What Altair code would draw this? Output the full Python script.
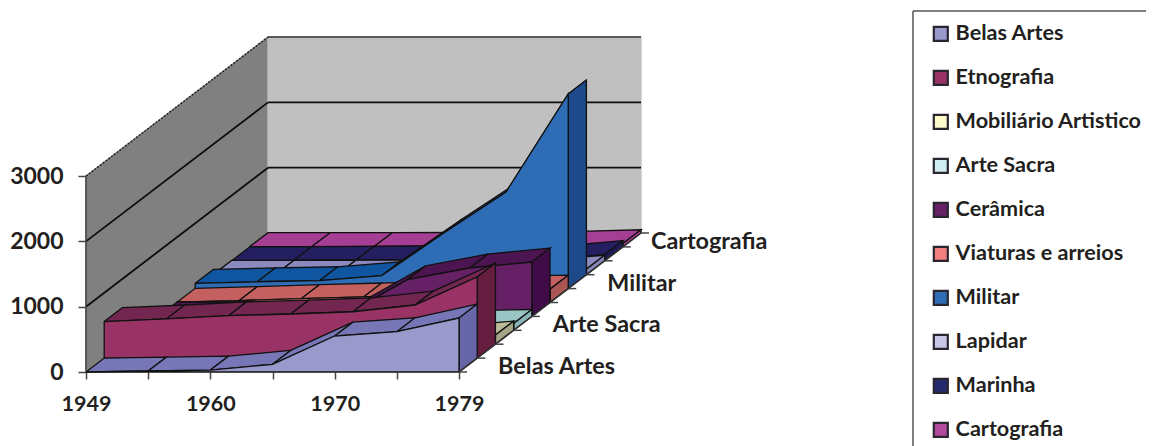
import altair as alt
import pandas as pd

# ---- data ----
SERIES = ["Belas Artes", "Etnografia", "Mobiliário Artistico", "Arte Sacra", "Cerâmica",
          "Viaturas e arreios", "Militar", "Lapidar", "Marinha", "Cartografia"]
CATEGORY_LABELS = ["1949", "", "1960", "", "1970", "", "1979"]
belas_artes = [0, 15, 30, 118, 551, 617, 827]
etnografia = [560, 600, 650, 675, 710, 813, 1242]
mobiliario = [0, 0, 0, 10, 30, 60, 140]
arte_sacra = [0, 0, 0, 10, 40, 90, 105]
ceramica = [5, 10, 15, 25, 563, 741, 833]
viaturas = [5, 30, 60, 85, 120, 190, 205]
militar = [81, 105, 121, 198, 851, 1480, 2980]
lapidar = [5, 5, 10, 10, 10, 15, 85]
marinha = [0, 5, 10, 15, 20, 10, 95]
cartografia = [5, 5, 5, 10, 15, 25, 50]
VALUES = [belas_artes, etnografia, mobiliario, arte_sacra, ceramica,
          viaturas, militar, lapidar, marinha, cartografia]
FRONT = ["#9999cc", "#993366", "#fffccc", "#cfeef2", "#662066",
         "#f28080", "#2e6db5", "#c8c8e6", "#25296e", "#b44a9c"]
TOP = ["#7777b8", "#732650", "#bbbb99", "#99c5c5", "#4c1450",
       "#c46060", "#0f55a0", "#8a8abf", "#231f60", "#a53f94"]
SIDE = ["#6666a8", "#661e40", "#a5a585", "#88b5b5", "#3f0c48",
        "#ac5555", "#1e4a8c", "#8888bb", "#1f1c55", "#c0409a"]
DEPTH_LABELS = {"Belas Artes": 0, "Arte Sacra": 3, "Militar": 6, "Cartografia": 9}
Y_TICKS = [0, 1000, 2000, 3000]

# ---- oblique projection (one depth slot, in category / value units) ----
CAT_PX, UNIT_PX = 62.17, 65.3 / 1000
DX, DY = 18.2 / CAT_PX, 13.9 / UNIT_PX
LAST = len(CATEGORY_LABELS) - 1
NDEPTH = len(SERIES)


def proj(i, d, v):
    return i + d * DX, v + d * DY


rows = []
def poly(points, fill, stroke):
    pid = poly.n = getattr(poly, "n", 0) + 1
    for k, p in enumerate(list(points) + [points[0]]):
        x, y = proj(*p)
        rows.append(dict(pid=pid, k=k, x=x, y=y, fill=fill, stroke=stroke))


# walls
poly([(0, 0, 0), (0, NDEPTH, 0), (0, NDEPTH, 3000), (0, 0, 3000)], "#808080", "#808080")
poly([(0, NDEPTH, 0), (LAST, NDEPTH, 0), (LAST, NDEPTH, 3000), (0, NDEPTH, 3000)], "#c0c0c0", "#c0c0c0")

# series, painted back to front
for d in range(NDEPTH - 1, -1, -1):
    v = VALUES[d]
    for i in range(LAST):
        poly([(i, d, v[i]), (i + 1, d, v[i + 1]), (i + 1, d + 1, v[i + 1]), (i, d + 1, v[i])], TOP[d], "#111111")
    poly([(LAST, d, 0), (LAST, d + 1, 0), (LAST, d + 1, v[LAST]), (LAST, d, v[LAST])], SIDE[d], "#111111")
    poly([(i, d, 0 if s else v[i]) for s, i in [(1, 0)] + [(0, j) for j in range(LAST + 1)] + [(1, LAST)]], FRONT[d], "#111111")

faces = pd.DataFrame(rows)

# grid lines on the walls
grid = []
gid = 0
for val in Y_TICKS[1:]:
    for name, a, b in [("side", (0, 0, val), (0, NDEPTH, val)), ("back", (0, NDEPTH, val), (LAST, NDEPTH, val))]:
        gid += 1
        for k, p in enumerate((a, b)):
            x, y = proj(*p)
            kind = "grid" if val != 3000 else ("dotted" if name == "side" else "top")
            grid.append(dict(gid=gid, k=k, x=x, y=y, kind=kind))
grid = pd.DataFrame(grid)

# depth axis
axis_line = pd.DataFrame([dict(zip("xy", proj(LAST, d, 0))) | {"k": d} for d in (0, NDEPTH)])
depth_ticks = pd.DataFrame([{"x": proj(LAST, d, 0)[0], "x2": proj(LAST, d, 0)[0] + 8 / CAT_PX,
                             "y": proj(LAST, d, 0)[1]} for d in range(NDEPTH + 1)])
depth_text = pd.DataFrame([{"label": n, "x": proj(LAST, d + 0.5, 0)[0], "y": proj(LAST, d + 0.5, 0)[1],
                            "late": n == "Cartografia"} for n, d in DEPTH_LABELS.items()])

# ---- scales ----
W, H = 1138, 438
X0, Y0 = 86 - 8, 372 - 8
x_scale = alt.Scale(domain=[-X0 / CAT_PX, (W - X0) / CAT_PX], nice=False, zero=False)
y_scale = alt.Scale(domain=[-(H - Y0) / UNIT_PX, Y0 / UNIT_PX], nice=False, zero=False)
FONT = "Lato"
INK = "#231f20"
label_array = "[" + ",".join(f"'{c}'" for c in CATEGORY_LABELS) + "]"
X = alt.X("x:Q", scale=x_scale, title=None,
          axis=alt.Axis(values=list(range(LAST + 1)), offset=-(H - Y0), domain=False, grid=False,
                        tickColor="#444444", tickSize=7, tickWidth=1.5,
                        labelExpr=label_array + "[datum.value]", labelFont=FONT, labelFontWeight="bold",
                        labelFontSize=21.5, labelColor=INK, labelPadding=14, labelOverlap=False,
                        labelFlush=False))
Y = alt.Y("y:Q", scale=y_scale, title=None,
          axis=alt.Axis(values=Y_TICKS, offset=-X0, domain=False, grid=False, tickColor="#444444",
                        tickSize=8, tickWidth=1.5, format="d", labelFont=FONT, labelFontWeight="bold",
                        labelFontSize=23, labelColor=INK, labelPadding=15, labelOverlap=False))

legend_df = pd.DataFrame({"series": SERIES, "x": [1.0] * NDEPTH, "y": [1500.0] * NDEPTH})
legend_layer = alt.Chart(legend_df).mark_square(size=4, filled=True).encode(
    x=X, y=Y,
    color=alt.Color("series:N", sort=None,
                    scale=alt.Scale(domain=SERIES, range=FRONT),
                    legend=alt.Legend(title=None, orient="none", legendX=922, legendY=15, padding=0,
                                      symbolType="square", symbolSize=196, symbolStrokeColor="#2a2530",
                                      symbolStrokeWidth=2.2, labelFont=FONT, labelFontWeight="bold",
                                      labelFontSize=21.6, labelColor=INK, labelOffset=4, labelLimit=260,
                                      rowPadding=20, symbolOpacity=1)))

face_layer = alt.Chart(faces).mark_line(strokeWidth=1.3, strokeJoin="miter", interpolate="linear").encode(
    x=X, y=Y, detail="pid:N", order="k:Q",
    fill=alt.Fill("fill:N", scale=None),
    stroke=alt.Stroke("stroke:N", scale=None))

grid_layer = alt.Chart(grid[grid.kind == "grid"]).mark_line(color="#0c0c0c", strokeWidth=1.8).encode(
    x=X, y=Y, detail="gid:N", order="k:Q")
top_layer = alt.Chart(grid[grid.kind == "top"]).mark_line(color="#333333", strokeWidth=1.5).encode(
    x=X, y=Y, detail="gid:N", order="k:Q")
dotted_layer = alt.Chart(grid[grid.kind == "dotted"]).mark_line(color="#222222", strokeWidth=1.5, strokeDash=[2, 1.5]).encode(
    x=X, y=Y, detail="gid:N", order="k:Q")

left_line = alt.Chart(pd.DataFrame({"x": [0.0, 0.0], "y": [0.0, 3000.0], "k": [0, 1]})).mark_line(
    color="#444444", strokeWidth=1.5).encode(x=X, y=Y, order="k:Q")
depth_line = alt.Chart(axis_line).mark_line(color="#333333", strokeWidth=1.5).encode(x=X, y=Y, order="k:Q")
tick_layer = alt.Chart(depth_ticks).mark_rule(color="#444444", strokeWidth=1.5).encode(x=X, x2="x2:Q", y=Y)
text_a = alt.Chart(depth_text[~depth_text.late]).mark_text(
    align="left", baseline="middle", dx=30, dy=2, font=FONT, fontWeight="bold", fontSize=23.4, color=INK
).encode(x=X, y=Y, text="label:N")
text_b = alt.Chart(depth_text[depth_text.late]).mark_text(
    align="left", baseline="middle", dx=19, dy=2, font=FONT, fontWeight="bold", fontSize=23.4, color=INK
).encode(x=X, y=Y, text="label:N")

frame = alt.Chart(pd.DataFrame({"a": [0]})).mark_rule(color="#555555", strokeWidth=1.5)
frame_left = frame.encode(x=alt.value(905), y=alt.value(3), y2=alt.value(H))
frame_top = frame.encode(x=alt.value(905), x2=alt.value(W), y=alt.value(3))

chart = alt.layer(legend_layer, face_layer.transform_filter("datum.pid <= 2"), grid_layer, top_layer, dotted_layer,
                  face_layer.transform_filter("datum.pid > 2"), left_line, depth_line, tick_layer,
                  text_a, text_b, frame_left, frame_top).properties(
    width=W, height=H, padding=0, autosize=alt.AutoSizeParams(type="none"),
).configure_view(stroke=None).configure_axis(labelFontWeight="bold")

chart.save("out.html", embed_options={"renderer": "svg", "actions": False})
